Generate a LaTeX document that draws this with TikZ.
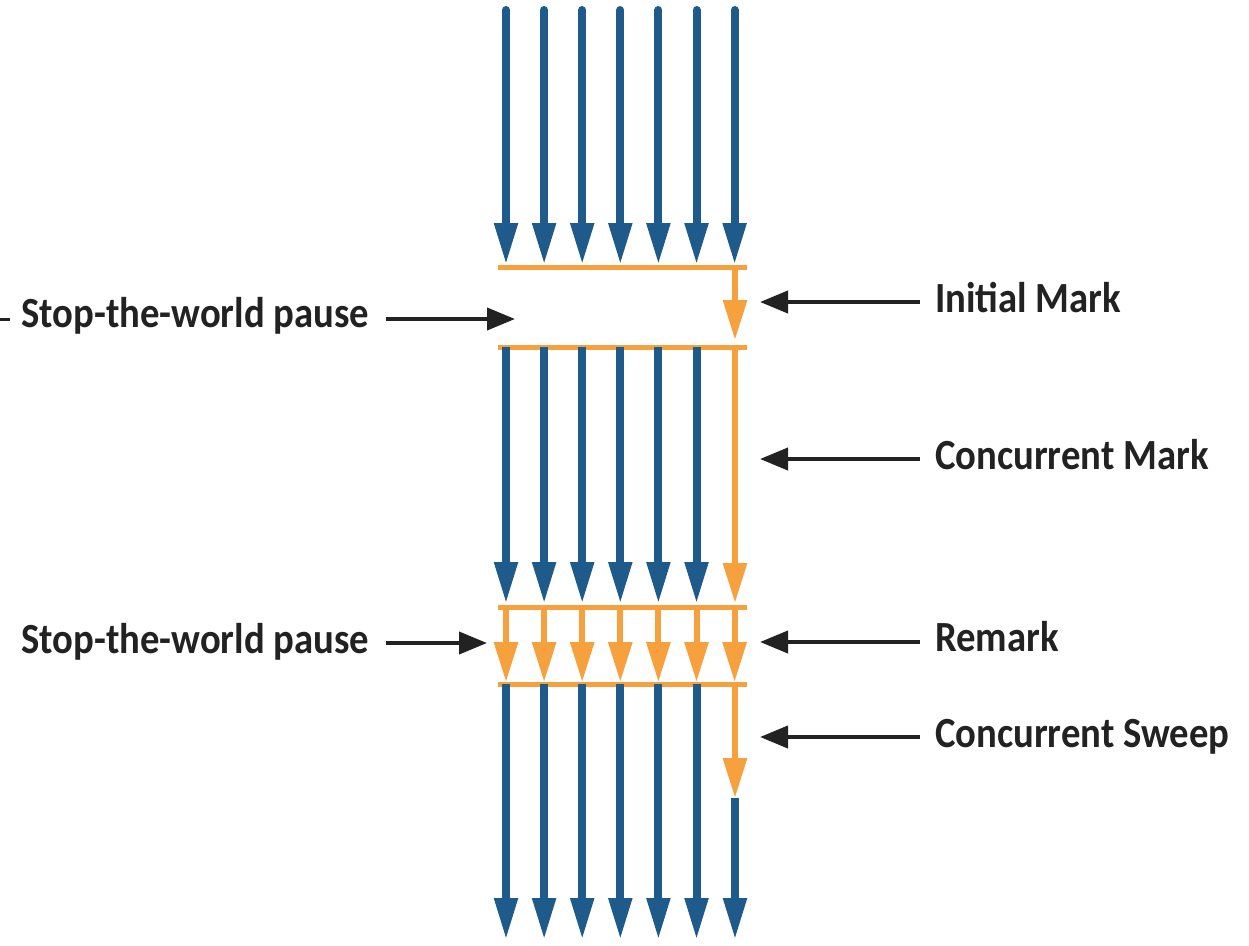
\documentclass[tikz,border=0pt]{standalone}
\usepackage{fontspec}
\setmainfont{Carlito}
\usetikzlibrary{arrows.meta}

\definecolor{threadblue}{HTML}{1E5A8A}
\definecolor{gcorange}{HTML}{F6A03E}
\definecolor{labelink}{HTML}{222222}

\newcommand{\phasetext}[1]{\scalebox{0.9}[1]{#1}}

\tikzset{
  thread/.style={draw=threadblue, line width=8pt,
    -{Triangle[width=22pt,length=42pt]}},
  threadplain/.style={draw=threadblue, line width=8pt},
  gcthread/.style={draw=gcorange, line width=6pt,
    -{Triangle[width=23pt,length=40pt]}},
  barrier/.style={draw=gcorange, line width=5pt},
  pointer/.style={draw=labelink, line width=4pt,
    -{Triangle[width=22pt,length=28pt]}},
  phase/.style={text=labelink, font=\fontsize{43}{50}\selectfont\bfseries,
    inner sep=0pt, anchor=base west},
}

\begin{document}
\begin{tikzpicture}[x=1pt, y=-1pt]
\useasboundingbox (0,0) rectangle (1249,945);

% column of each thread
\def\colx#1{506+38.1*#1}

% application threads before the first pause
\foreach \i in {0,...,6} {
  \coordinate (t\i) at ({\colx{\i}},10);
  \coordinate (a\i) at ({\colx{\i}},265);
  \draw[thread, line cap=round] (t\i) -- (a\i);
}

% initial mark pause
\coordinate (b1L) at (498,267);
\coordinate (b1R) at (747,267);
\coordinate (b2L) at (498,347);
\coordinate (b2R) at (747,347);
\coordinate (gc1s) at (735,267);
\coordinate (gc1e) at (735,340);
\draw[barrier] (b1L) -- (b1R);
\draw[gcthread] (gc1s) -- (gc1e);
\draw[barrier] (b2L) -- (b2R);

% concurrent mark: application threads run beside the GC thread
\foreach \i in {0,...,5} {
  \coordinate (m\i) at ({\colx{\i}},347);
  \coordinate (n\i) at ({\colx{\i}},604);
  \draw[thread] (m\i) -- (n\i);
}
\coordinate (gc2s) at (735,347);
\coordinate (gc2e) at (735,603);
\draw[gcthread] (gc2s) -- (gc2e);

% remark pause: all threads do GC work
\foreach \i in {0,...,6} {
  \coordinate (r\i) at ({\colx{\i}},607);
  \coordinate (s\i) at ({\colx{\i}},682);
  \draw[gcthread] (r\i) -- (s\i);
}
\coordinate (b3L) at (498,607);
\coordinate (b3R) at (747,607);
\coordinate (b4L) at (498,684);
\coordinate (b4R) at (747,684);
\draw[barrier] (b3L) -- (b3R);
\draw[barrier] (b4L) -- (b4R);

% concurrent sweep and the threads after it
\foreach \i in {0,...,5} {
  \coordinate (u\i) at ({\colx{\i}},684);
  \coordinate (v\i) at ({\colx{\i}},940);
  \draw[thread] (u\i) -- (v\i);
}
\coordinate (gc3s) at (735,684);
\coordinate (gc3e) at (735,798);
\coordinate (w6) at (735,940);
\draw[thread] (gc3e) -- (w6);
\draw[gcthread] (gc3s) -- (gc3e);

% labels on the right
\node[phase] (lInit)  at (935,312) {\phasetext{Initial Mark}};
\node[phase] (lCMark) at (935,469) {\phasetext{Concurrent Mark}};
\node[phase] (lRem)   at (935,651) {\phasetext{Remark}};
\node[phase] (lSweep) at (935,747) {\phasetext{Concurrent Sweep}};

\coordinate (pInitA) at (920,302);  \coordinate (pInitB) at (760,302);
\coordinate (pCMA)   at (920,459);  \coordinate (pCMB)   at (760,459);
\coordinate (pRemA)  at (920,642);  \coordinate (pRemB)  at (760,642);
\coordinate (pSwA)   at (920,737);  \coordinate (pSwB)   at (760,737);
\draw[pointer] (pInitA) -- (pInitB);
\draw[pointer] (pCMA) -- (pCMB);
\draw[pointer] (pRemA) -- (pRemB);
\draw[pointer] (pSwA) -- (pSwB);

% labels on the left
\node[phase] (lStop1) at (21,327) {\phasetext{Stop-the-world pause}};
\node[phase] (lStop2) at (21,653) {\phasetext{Stop-the-world pause}};
\coordinate (dashA) at (0,319); \coordinate (dashB) at (10,319);
\draw[draw=labelink, line width=3pt] (dashA) -- (dashB);

\coordinate (pS1A) at (386,319);  \coordinate (pS1B) at (515,319);
\coordinate (pS2A) at (386,643);  \coordinate (pS2B) at (487,643);
\draw[pointer] (pS1A) -- (pS1B);
\draw[pointer] (pS2A) -- (pS2B);
\end{tikzpicture}
\end{document}
